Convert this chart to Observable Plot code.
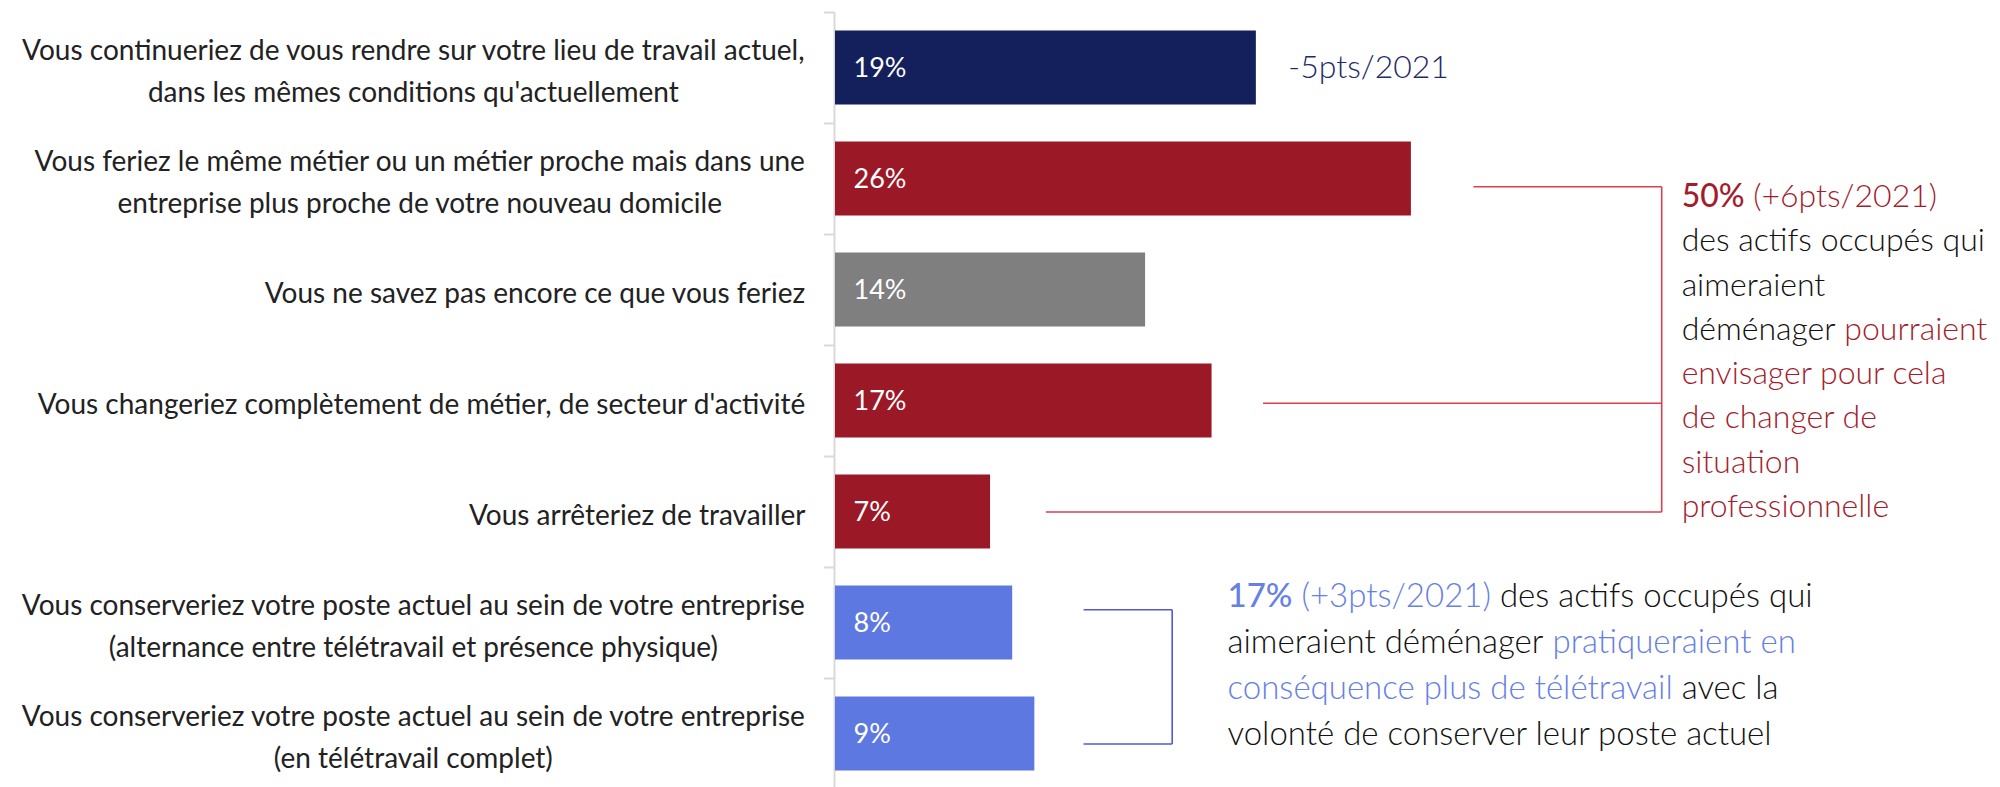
<!DOCTYPE html>
<html><head><meta charset="utf-8">
<script src="https://cdn.jsdelivr.net/npm/d3@7"></script>
<script src="https://cdn.jsdelivr.net/npm/@observablehq/plot@0.6"></script>
<style>html,body{margin:0;padding:0;background:#fff;overflow:hidden}</style>
</head><body><div id="chart"></div>
<script>
// ---- data ----
const categories = [
  "Vous continueriez de vous rendre sur votre lieu de travail actuel,\ndans les mêmes conditions qu'actuellement",
  "Vous feriez le même métier ou un métier proche mais dans une\nentreprise plus proche de votre nouveau domicile",
  "Vous ne savez pas encore ce que vous feriez",
  "Vous changeriez complètement de métier, de secteur d'activité",
  "Vous arrêteriez de travailler",
  "Vous conserveriez votre poste actuel au sein de votre entreprise\n(alternance entre télétravail et présence physique)",
  "Vous conserveriez votre poste actuel au sein de votre entreprise\n(en télétravail complet)"
];
const values = [19, 26, 14, 17, 7, 8, 9];
const valueLabels = ["19%", "26%", "14%", "17%", "7%", "8%", "9%"];
const groups = ["stay", "change", "unsure", "change", "change", "remote", "remote"];
const firstNote = "-5pts/2021";
const redNote = [
  [["50%", "red", 500], ["(+6pts/2021)", "red"]],
  [["des actifs occupés qui", "ink"]],
  [["aimeraient", "ink"]],
  [["déménager", "ink"], ["pourraient", "red"]],
  [["envisager pour cela", "red"]],
  [["de changer de", "red"]],
  [["situation", "red"]],
  [["professionnelle", "red"]]
];
const blueNote = [
  [["17%", "blue", 500], ["(+3pts/2021)", "blue"], ["des actifs occupés qui", "ink"]],
  [["aimeraient déménager", "ink"], ["pratiqueraient en", "blue"]],
  [["conséquence plus de télétravail", "blue"], ["avec la", "ink"]],
  [["volonté de conserver leur poste actuel", "ink"]]
];
// annotation anchors (data units: x in %, y in row index)
const redBracket = {x: 37.3, ys: [1.07, 3.02, 4.0]};
const blueBracket = {x: 15.2, xStart: 11.2, ys: [4.88, 6.09]};
const redText = {x: 38.2, y: 1.16, step: 0.399};
const blueText = {x: 17.7, y: 4.76, step: 0.414};

// ---- styles ----
const FONT = "Lato";
const colors = {stay: "#13205b", change: "#9b1927", unsure: "#7f7f7f", remote: "#5e78e1"};
const tones = {red: "#a31d2d", blue: "#6680e4", ink: "#111111"};

const rows = categories.map((c, i) => ({i, label: c, value: values[i], text: valueLabels[i], group: groups[i]}));

const ctx = document.createElement("canvas").getContext("2d");
function tw(s, size, weight) { ctx.font = `${weight} ${size}px ${FONT}`; return ctx.measureText(s).width; }

const LABEL_SIZE = 28;
const labelMarks = rows.map(r => {
  const w = d3.max(r.label.split("\n"), l => tw(l, LABEL_SIZE, 400));
  return Plot.text([r], {x: () => 0, y: "i", text: "label", textAnchor: "middle", dx: -(30 + w / 2),
    lineHeight: 1.5, fontSize: LABEL_SIZE, fontWeight: 400, fill: "#222"});
});

function noteMarks(lines, anchor, size) {
  const marks = [];
  lines.forEach((segs, li) => {
    let off = 0;
    segs.forEach(([text, tone, weight]) => {
      const w = weight ?? 300;
      marks.push(Plot.text([text], {x: () => anchor.x, y: () => anchor.y + li * anchor.step, text: d => d,
        dx: off, textAnchor: "start", fill: tones[tone], fontWeight: w, fontSize: size}));
      off += tw(text, size, w) + tw(" ", size, 300);
    });
  });
  return marks;
}

const redLinks = [
  {x1: values[1] + 2.8, x2: redBracket.x, y1: redBracket.ys[0], y2: redBracket.ys[0]},
  {x1: values[3] + 2.3, x2: redBracket.x, y1: redBracket.ys[1], y2: redBracket.ys[1]},
  {x1: values[4] + 2.5, x2: redBracket.x, y1: redBracket.ys[2], y2: redBracket.ys[2]},
  {x1: redBracket.x, x2: redBracket.x, y1: redBracket.ys[0], y2: redBracket.ys[2]}
];
const blueLinks = [
  {x1: blueBracket.xStart, x2: blueBracket.x, y1: blueBracket.ys[0], y2: blueBracket.ys[0]},
  {x1: blueBracket.xStart, x2: blueBracket.x, y1: blueBracket.ys[1], y2: blueBracket.ys[1]},
  {x1: blueBracket.x, x2: blueBracket.x, y1: blueBracket.ys[0], y2: blueBracket.ys[1]}
];

const chart = Plot.plot({
  width: 2000, height: 789,
  marginLeft: 835, marginRight: 0, marginTop: 12, marginBottom: 0,
  style: {fontFamily: FONT, background: "#fff", overflow: "visible"},
  x: {domain: [0, 1165 / 22.15], axis: null},
  y: {domain: [-0.5, 6.5], range: [12, 789], axis: null},
  color: {domain: Object.keys(colors), range: Object.values(colors)},
  marks: [
    Plot.ruleX([0], {stroke: "#d9d9d9", strokeWidth: 2, dx: -1}),
    Plot.ruleY(rows, {y: d => d.i - 0.5, x1: -0.45, x2: 0, stroke: "#d9d9d9", strokeWidth: 2, dx: -1}),
    Plot.rectX(rows, {x1: 0, x2: "value", y1: d => d.i - 1/3, y2: d => d.i + 1/3, fill: "group"}),
    Plot.text(rows, {x: () => 0, y: "i", text: "text", dx: 18, textAnchor: "start", fill: "white", fontSize: 27, fontWeight: 400}),
    ...labelMarks,
    Plot.text([rows[0]], {x: "value", y: "i", text: () => firstNote, dx: 32, textAnchor: "start", fill: "#1f2a66", fontSize: 32, fontWeight: 300}),
    Plot.link(redLinks, {x1: "x1", x2: "x2", y1: "y1", y2: "y2", stroke: "#d8404f", strokeWidth: 1.6}),
    Plot.link(blueLinks, {x1: "x1", x2: "x2", y1: "y1", y2: "y2", stroke: "#5557d8", strokeWidth: 1.6}),
    ...noteMarks(redNote, redText, 32),
    ...noteMarks(blueNote, blueText, 33)
  ]
});
document.getElementById("chart").appendChild(chart);
</script>
</body></html>
